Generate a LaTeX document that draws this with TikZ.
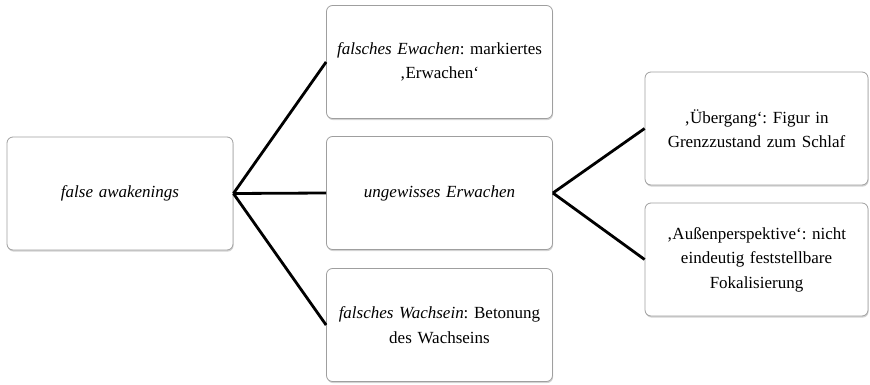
\documentclass[tikz,border=0pt]{standalone}
\usepackage{fontspec}
\setmainfont{Liberation Serif}
\usetikzlibrary{shadows}
\begin{document}
\begin{tikzpicture}[x=1pt,y=-1pt,
  box/.style={draw=gray!75, line width=0.8pt, rounded corners=6pt, fill=white,
    drop shadow={shadow xshift=0.6pt, shadow yshift=-1.6pt, opacity=0.35, fill=gray},
    align=center, inner sep=2pt, font=\fontsize{17}{24.5}\selectfont\frenchspacing},
  wide/.style={box, minimum width=226pt, minimum height=113pt, text width=215pt},
  narrow/.style={box, minimum width=223pt, minimum height=113pt, text width=212pt},
  conn/.style={line width=2.8pt, black}]
\useasboundingbox (0,0) rectangle (870,385);
\node[wide] (A) at (120,193.5) {\textit{false awakenings}};
\node[wide] (B) at (439.5,62) {\textit{falsches Ewachen}: markiertes\\ ‚Erwachen‘};
\node[wide] (C) at (439.5,193) {\textit{ungewisses Erwachen}};
\node[wide] (D) at (439.5,325) {\textit{falsches Wachsein}: Betonung\\ des Wachseins};
\node[narrow] (E) at (756.5,128.5) {‚Übergang‘: Figur in\\ Grenzzustand zum Schlaf};
\node[narrow] (F) at (756.5,259.5) {‚Außenperspektive‘: nicht\\ eindeutig feststellbare\\ Fokalisierung};
\draw[conn] (A.east) -- (B.west);
\draw[conn] (A.east) -- (C.west);
\draw[conn] (A.east) -- (D.west);
\draw[conn] (C.east) -- (E.west);
\draw[conn] (C.east) -- (F.west);
\end{tikzpicture}
\end{document}
